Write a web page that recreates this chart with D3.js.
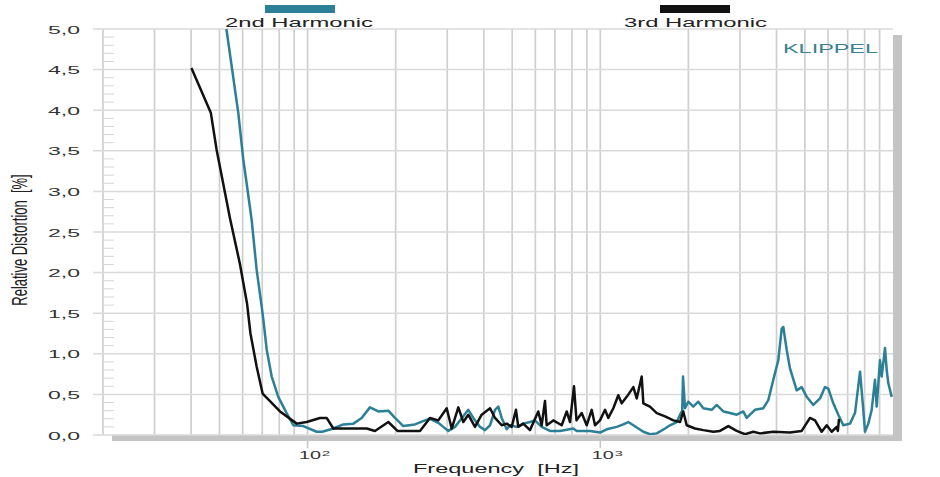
<!DOCTYPE html>
<html>
<head>
<meta charset="utf-8">
<script src="https://cdn.jsdelivr.net/npm/d3@7"></script>
<style>
  html, body { margin: 0; padding: 0; background: #fff; }
  svg { display: block; }
  text { font-family: "Liberation Sans", Arial, sans-serif; white-space: pre; }
</style>
</head>
<body>
<svg id="chart" width="940" height="477"></svg>
<script>
// ---------- data ----------
const seriesNames = ["2nd Harmonic", "3rd Harmonic"];
const yTickValues = [0, 0.5, 1, 1.5, 2, 2.5, 3, 3.5, 4, 4.5, 5];
const yTickLabels = ["0,0","0,5","1,0","1,5","2,0","2,5","3,0","3,5","4,0","4,5","5,0"];
const xDecades = [100, 1000];
const xDecadeBase = ["10", "10"];
const xDecadeExp = ["2", "3"];
const xTitle = "Frequency  [Hz]";
const yTitle = "Relative Distortion  [%]";
const brand = "KLIPPEL";

// 3rd harmonic (black)
const freq3 = [40.1,46.7,48.9,54.3,58.7,62.1,63.8,67.0,70.2,80.5,91.8,99.3,110.2,116.2,122.4,139.6,159.2,169.9,188.7,202.8,242.1,261.9,279.6,298.7,310.7,327.3,340.4,354.0,373.1,393.3,420.1,436.8,460.4,478.9,498.1,515.2,524.6,545.6,575.1,614.0,630.6,647.2,655.9,690.9,738.1,767.7,788.0,813.1,829.3,864.0,898.5,934.6,959.2,997.7,1038,1065,1108,1152,1183,1231,1297,1332,1385,1403,1478,1559,1664,1777,1873,1921,1973,2106,2249,2433,2564,2737,2924,3122,3332,3513,3900,4447,4876,5205,5414,5707,5936,6174,6423,6480,6540];
const dist3 = [4.52,3.97,3.51,2.67,2.11,1.62,1.25,0.84,0.51,0.29,0.14,0.16,0.21,0.21,0.08,0.08,0.08,0.05,0.16,0.05,0.05,0.21,0.18,0.33,0.08,0.34,0.16,0.25,0.10,0.25,0.33,0.21,0.12,0.14,0.10,0.31,0.10,0.14,0.06,0.29,0.12,0.42,0.12,0.18,0.12,0.29,0.16,0.60,0.18,0.27,0.12,0.31,0.12,0.18,0.31,0.21,0.33,0.49,0.39,0.47,0.59,0.45,0.72,0.39,0.35,0.27,0.23,0.18,0.16,0.29,0.12,0.08,0.06,0.04,0.05,0.11,0.05,0.01,0.04,0.02,0.04,0.03,0.05,0.21,0.18,0.04,0.12,0.04,0.10,0.05,0.20];

// 2nd harmonic (teal)
const freq2 = [52.8,58.0,60.3,61.9,64.4,67.0,69.7,70.6,72.5,75.4,79.4,84.8,89.4,96.7,107.4,112.2,122.4,132.4,143.3,153.0,163.3,174.4,188.7,198.9,212.3,232.7,251.8,261.9,279.6,290.8,302.5,318.9,340.4,354.0,368.3,388.2,403.7,420.1,436.8,448.2,460.4,478.9,491.5,518.0,545.6,575.1,598.2,630.6,673.3,728.5,808.7,830.7,922.2,997.7,1052,1138,1198,1246,1297,1403,1478,1559,1664,1730,1824,1873,1905,1917,1947,1998,2078,2162,2249,2402,2498,2632,2774,2924,3080,3164,3246,3377,3606,3750,3900,4056,4166,4219,4333,4447,4688,4876,5072,5342,5631,5857,6012,6252,6503,6763,7130,7417,7715,7917,8023,8234,8456,8679,8796,9027,9149,9390,9518,9636,9899];
const dist2 = [5.0,3.96,3.39,3.10,2.65,2.03,1.58,1.42,1.05,0.72,0.47,0.27,0.12,0.11,0.04,0.04,0.08,0.13,0.14,0.21,0.34,0.29,0.30,0.21,0.11,0.13,0.18,0.20,0.15,0.10,0.05,0.10,0.23,0.31,0.21,0.10,0.06,0.12,0.31,0.35,0.21,0.07,0.12,0.10,0.14,0.16,0.18,0.10,0.05,0.05,0.08,0.05,0.05,0.03,0.07,0.10,0.13,0.16,0.12,0.04,0.01,0.02,0.08,0.12,0.16,0.25,0.30,0.72,0.33,0.41,0.35,0.41,0.33,0.31,0.37,0.29,0.27,0.25,0.29,0.21,0.25,0.31,0.33,0.43,0.68,0.92,1.31,1.33,1.05,0.82,0.55,0.59,0.47,0.37,0.45,0.59,0.57,0.39,0.25,0.12,0.14,0.27,0.78,0.31,0.04,0.14,0.31,0.68,0.35,0.92,0.72,1.07,0.80,0.64,0.47];

// ---------- layout ----------
const teal = "#2b7f96";
const plot = { left: 103, right: 893, top: 29, bottom: 435 };
const svg = d3.select("#chart");

const x = d3.scaleLog().domain([20, 10000]).range([plot.left, plot.right]);
const y = d3.scaleLinear().domain([0, 5]).range([plot.bottom, plot.top]);

// shadow + plot background
svg.append("rect")
  .attr("x", plot.left + 9).attr("y", plot.top + 6)
  .attr("width", plot.right - plot.left).attr("height", plot.bottom - plot.top)
  .attr("fill", "#c4c4c4");
svg.append("rect")
  .attr("x", plot.left).attr("y", plot.top)
  .attr("width", plot.right - plot.left).attr("height", plot.bottom - plot.top)
  .attr("fill", "#fff");

// vertical grid (log)
const vTicks = [];
[10, 100, 1000].forEach(d => { for (let k = 1; k <= 9; k++) { const v = d * k; if (v >= 20 && v <= 9000) vTicks.push(v); } });
svg.append("g").selectAll("line").data(vTicks).join("line")
  .attr("x1", d => x(d)).attr("x2", d => x(d))
  .attr("y1", plot.top).attr("y2", plot.bottom)
  .attr("stroke", "#cfcfcf").attr("stroke-width", 1.7);

// decade tick marks below
svg.append("g").selectAll("line").data(xDecades).join("line")
  .attr("x1", d => x(d)).attr("x2", d => x(d))
  .attr("y1", plot.bottom).attr("y2", plot.bottom + 13)
  .attr("stroke", "#c8c8c8").attr("stroke-width", 1.6);

// horizontal grid
svg.append("g").selectAll("line").data(yTickValues).join("line")
  .attr("x1", plot.left - 10).attr("x2", plot.right)
  .attr("y1", d => y(d)).attr("y2", d => y(d))
  .attr("stroke", "#dadada").attr("stroke-width", 1.5);

// minor y ticks
const minor = d3.range(0, 50).map(i => i / 10).filter((d, i) => i % 5 !== 0);
svg.append("g").selectAll("line").data(minor).join("line")
  .attr("x1", plot.left).attr("x2", plot.left + 11)
  .attr("y1", d => y(d)).attr("y2", d => y(d))
  .attr("stroke", "#d6d6d6").attr("stroke-width", 1);

// y tick labels
svg.append("g").selectAll("text").data(yTickValues).join("text")
  .attr("x", 48).attr("y", d => y(d) + 4.5)
  .attr("textLength", 32).attr("lengthAdjust", "spacingAndGlyphs")
  .attr("font-size", 11).attr("fill", "#333")
  .text((d, i) => yTickLabels[i]);

// x decade labels
const xl = svg.append("g");
xDecades.forEach((d, i) => {
  xl.append("text").attr("x", x(d) - 8.6).attr("y", 459)
    .attr("textLength", 22).attr("lengthAdjust", "spacingAndGlyphs")
    .attr("font-size", 11.5).attr("fill", "#333").text(xDecadeBase[i]);
  xl.append("text").attr("x", x(d) + 14.5).attr("y", 455.5)
    .attr("textLength", 8).attr("lengthAdjust", "spacingAndGlyphs")
    .attr("font-size", 8).attr("fill", "#333").text(xDecadeExp[i]);
});

// axis titles
svg.append("text").attr("x", 413).attr("y", 473)
  .attr("textLength", 166).attr("lengthAdjust", "spacingAndGlyphs")
  .attr("font-size", 12.5).attr("fill", "#222").text(xTitle);
svg.append("text")
  .attr("transform", "translate(27,240) scale(1.7,1) rotate(-90)")
  .attr("text-anchor", "middle")
  .attr("font-size", 13).attr("fill", "#222").text(yTitle);

// brand
svg.append("text").attr("x", 783).attr("y", 53)
  .attr("textLength", 95).attr("lengthAdjust", "spacingAndGlyphs")
  .attr("font-size", 12).attr("fill", "#3a7f92").text(brand);

// legend
const legend = [
  { name: seriesNames[0], color: teal, rx: 265, tx: 225, tw: 148 },
  { name: seriesNames[1], color: "#111", rx: 660, tx: 624, tw: 143 }
];
legend.forEach(l => {
  svg.append("rect").attr("x", l.rx).attr("y", 5).attr("width", 70).attr("height", 8).attr("fill", l.color);
  svg.append("text").attr("x", l.tx).attr("y", 26.5)
    .attr("textLength", l.tw).attr("lengthAdjust", "spacingAndGlyphs")
    .attr("font-size", 12.5).attr("fill", "#222").text(l.name);
});

// clip + lines
svg.append("clipPath").attr("id", "clip").append("rect")
  .attr("x", plot.left).attr("y", plot.top - 1)
  .attr("width", plot.right - plot.left).attr("height", plot.bottom - plot.top + 1);

const line = d3.line().x(d => x(d[0])).y(d => y(d[1])).curve(d3.curveLinear);
const s3 = freq3.map((f, i) => [f, dist3[i]]);
const s2 = freq2.map((f, i) => [f, dist2[i]]);

const lines = svg.append("g").attr("clip-path", "url(#clip)");
lines.append("path").datum(s2).attr("d", line)
  .attr("fill", "none").attr("stroke", teal).attr("stroke-width", 2.5).attr("stroke-linejoin", "round");
lines.append("path").datum(s3).attr("d", line)
  .attr("fill", "none").attr("stroke", "#111").attr("stroke-width", 2.5).attr("stroke-linejoin", "round");
</script>
</body>
</html>
